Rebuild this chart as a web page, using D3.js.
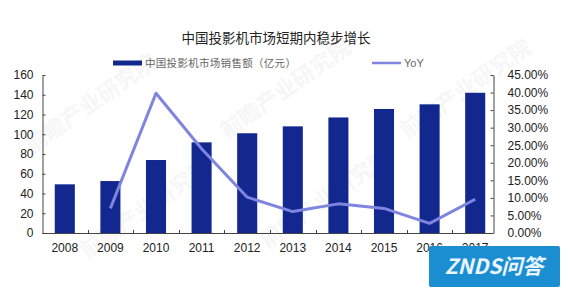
<!DOCTYPE html>
<html><head><meta charset="utf-8">
<script src="https://cdn.jsdelivr.net/npm/d3@7"></script>
<style>
html,body{margin:0;padding:0;background:#fff;}
svg{display:block;}
</style></head>
<body>
<svg id="c" width="570" height="296"></svg>
<script>
const years = ["2008","2009","2010","2011","2012","2013","2014","2015","2016","2017"];
const sales = [49.3, 52.6, 73.9, 91.8, 101, 108, 117, 125.6, 130.3, 142];
const yoy = [null, 0.070, 0.398, 0.240, 0.102, 0.061, 0.083, 0.070, 0.0275, 0.096];
const leftTicks = [0,20,40,60,80,100,120,140,160];
const rightTicks = [0,0.05,0.10,0.15,0.20,0.25,0.30,0.35,0.40,0.45];
const title = "中国投影机市场短期内稳步增长";
const legendBar = "中国投影机市场销售额（亿元）";
const legendLine = "YoY";

const svg = d3.select("#c");
const numFont = "'Liberation Sans', Arial, sans-serif";
const cjkFont = "'Noto Sans CJK SC', sans-serif";

// faint watermarks
const wm = [[95,110],[290,95],[470,95],[150,215],[330,205]];
wm.forEach(([x,y])=>{
  svg.append("text").attr("x",x).attr("y",y)
    .attr("transform",`rotate(-35,${x},${y})`)
    .attr("text-anchor","middle")
    .style("font-family",cjkFont).style("font-size","22px").style("font-weight","bold")
    .attr("fill","#000").attr("opacity",0.03).text("前瞻产业研究院");
});

const x = d3.scaleBand().domain(years).range([42, 498]).padding(0);
const y = d3.scaleLinear().domain([0,160]).range([233,75]);
const y2 = d3.scaleLinear().domain([0,0.45]).range([233,75]);
const axisColor = "#444";

// bars
const bw = x.step()*0.44;
svg.append("g").selectAll("rect").data(years).join("rect")
  .attr("x", (d)=>x(d)+x.step()/2-bw/2)
  .attr("y", (d,i)=>y(sales[i]))
  .attr("width", bw)
  .attr("height", (d,i)=>y(0)-y(sales[i]))
  .attr("fill","#13288f");

// left axis
const gl = svg.append("g").attr("transform","translate(42.5,0)")
  .call(d3.axisLeft(y).tickValues(leftTicks).tickSizeInner(-3).tickSizeOuter(0).tickPadding(9));
gl.select(".domain").attr("stroke",axisColor);
gl.selectAll(".tick line").attr("stroke",axisColor);
gl.selectAll("text").style("font-family",numFont).style("font-size","12px").attr("fill","#222");

// right axis
const gr = svg.append("g").attr("transform","translate(493.5,0)")
  .call(d3.axisRight(y2).tickValues(rightTicks).tickSizeInner(-3).tickSizeOuter(0).tickPadding(14)
    .tickFormat(d=>(d*100).toFixed(2)+"%"));
gr.select(".domain").attr("stroke",axisColor);
gr.selectAll(".tick line").attr("stroke",axisColor);
gr.selectAll("text").style("font-family",numFont).style("font-size","12px").attr("fill","#222");

// x axis
svg.append("line").attr("x1",42.5).attr("x2",493.5).attr("y1",233.5).attr("y2",233.5)
  .attr("stroke",axisColor).attr("stroke-width",1.2);
svg.append("g").selectAll("line").data(years.slice(1)).join("line")
  .attr("x1",d=>Math.round(x(d))+0.5).attr("x2",d=>Math.round(x(d))+0.5)
  .attr("y1",233).attr("y2",230).attr("stroke",axisColor);
svg.append("g").selectAll("text").data(years).join("text")
  .attr("x",d=>x(d)+x.step()/2).attr("y",252)
  .attr("text-anchor","middle")
  .style("font-family",numFont).style("font-size","12px").attr("fill","#222")
  .text(d=>d);

// line
const pts = years.map((d,i)=>({d, v:yoy[i]})).filter(p=>p.v!==null);
svg.append("path").datum(pts)
  .attr("d", d3.line().x(p=>x(p.d)+x.step()/2).y(p=>y2(p.v)))
  .attr("fill","none").attr("stroke","#7f84e0").attr("stroke-width",3).attr("stroke-linejoin","round");

// title
svg.append("text").attr("x",276).attr("y",43).attr("text-anchor","middle")
  .style("font-family",cjkFont).style("font-size","13.5px").attr("fill","#222").text(title);

// legend
svg.append("rect").attr("x",113).attr("y",60.5).attr("width",29).attr("height",5).attr("fill","#13288f");
svg.append("text").attr("x",145).attr("y",67).style("font-family",cjkFont).style("font-size","10.5px")
  .style("letter-spacing","0.3px").attr("fill","#666").text(legendBar);
svg.append("line").attr("x1",372).attr("x2",401).attr("y1",63).attr("y2",63)
  .attr("stroke","#7f84e0").attr("stroke-width",2.5);
svg.append("text").attr("x",404).attr("y",67).style("font-family",numFont).style("font-size","11px")
  .attr("fill","#666").text(legendLine);

// logo badge
svg.append("rect").attr("x",429).attr("y",246).attr("width",131).attr("height",41).attr("rx",2)
  .attr("fill","#1b8ed2");
svg.append("text").attr("x",494).attr("y",274).attr("text-anchor","middle")
  .style("font-family",cjkFont).style("font-size","21px").style("font-weight","bold").style("font-style","italic")
  .attr("fill","#e9f5ff").text("ZNDS问答");
</script>
</body></html>
